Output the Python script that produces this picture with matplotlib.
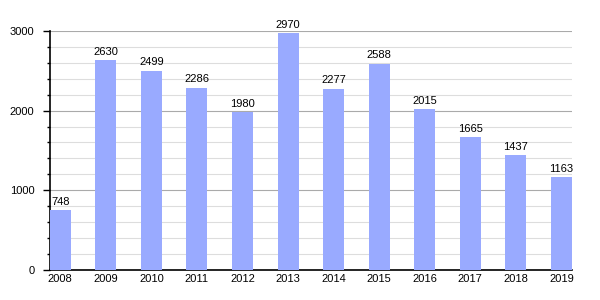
import matplotlib.pyplot as plt
from matplotlib.ticker import MultipleLocator

plt.rcParams['font.family'] = ['Liberation Sans', 'DejaVu Sans']

years = ['2008', '2009', '2010', '2011', '2012', '2013', '2014', '2015', '2016', '2017', '2018', '2019']
values = [748, 2630, 2499, 2286, 1980, 2970, 2277, 2588, 2015, 1665, 1437, 1163]

fig = plt.figure(figsize=(6, 3), dpi=100)
ax = fig.add_axes([0.083, 0.1, 0.87, 0.797])

x = list(range(len(years)))
ax.bar(x, values, width=0.46, color='#99aaff', zorder=3)

# value labels on top of bars
for xi, v in zip(x, values):
    ax.text(xi, v + 45, str(v), ha='center', va='bottom', fontsize=8, zorder=4)

ax.set_xlim(-0.23, len(years) - 1 + 0.23)
ax.set_ylim(0, 3000)
ax.set_xticks(x)
ax.set_xticklabels(years)
ax.yaxis.set_major_locator(MultipleLocator(1000))
ax.yaxis.set_minor_locator(MultipleLocator(200))

ax.grid(axis='y', which='major', color='#aaaaaa', linewidth=0.8, zorder=0)
ax.grid(axis='y', which='minor', color='#dddddd', linewidth=0.8, zorder=0)

for s in ['top', 'right']:
    ax.spines[s].set_visible(False)
ax.spines['left'].set_linewidth(1.2)
ax.spines['bottom'].set_linewidth(1.2)

ax.tick_params(axis='x', length=0, labelsize=8, pad=3)
ax.tick_params(axis='y', which='major', length=5, width=1, labelsize=8, pad=6)
ax.tick_params(axis='y', which='minor', length=2.5, width=1)

fig.savefig('out.png', dpi=100)
